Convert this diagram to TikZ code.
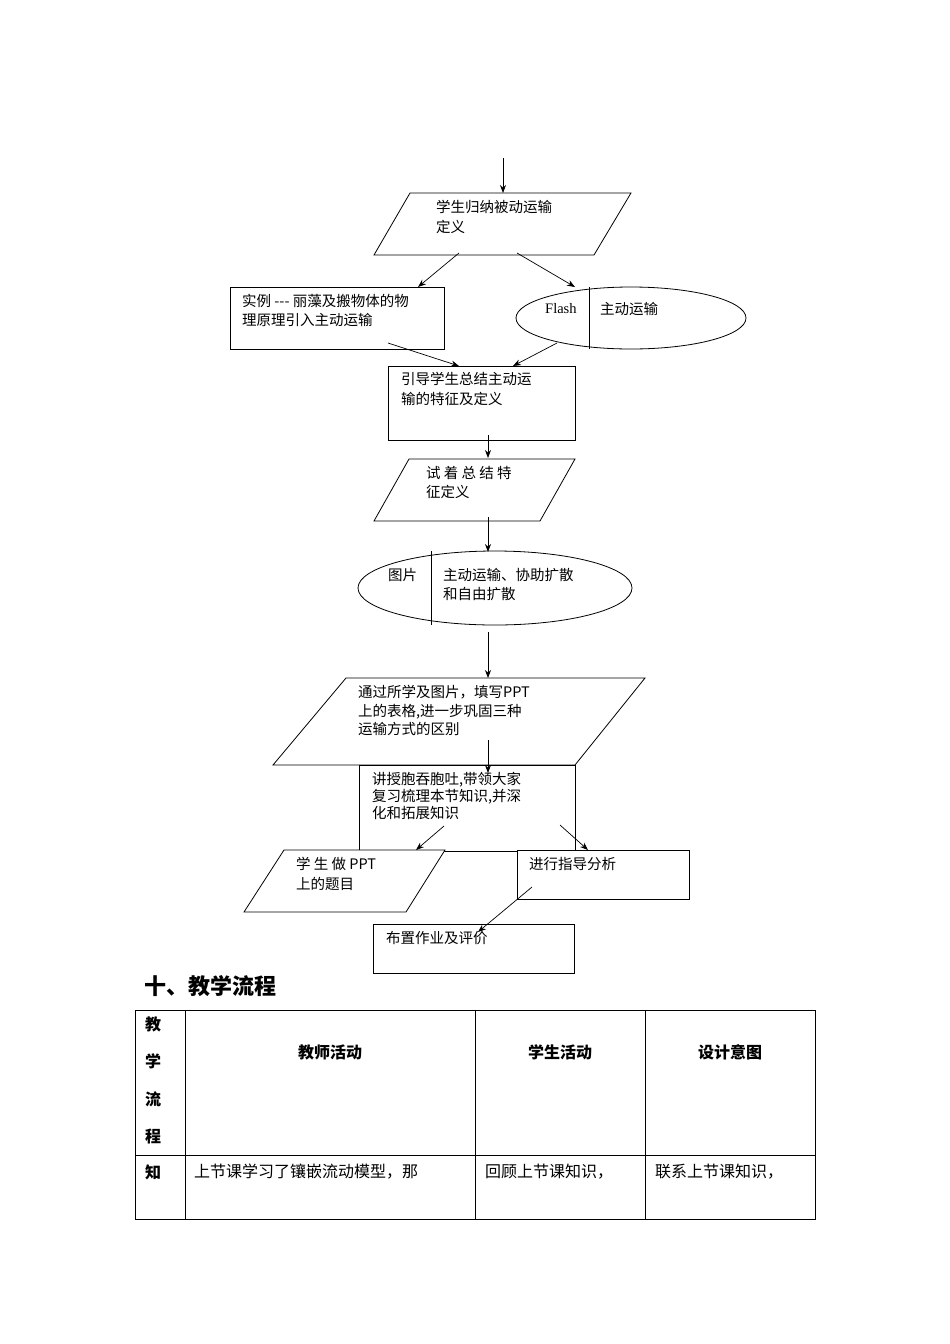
\documentclass[tikz,border=0pt]{standalone}
\usepackage{fontspec}
\usetikzlibrary{arrows.meta}
\setmainfont{Liberation Serif}
\newfontfamily\cjk{Noto Sans CJK SC}
\begin{document}
\begin{tikzpicture}[x=1pt,y=-1pt,
  box/.style={draw,line width=0.8pt},
  arr/.style={-{Stealth[length=8pt,width=6pt]},line width=0.7pt},
  tx/.style={anchor=north west,align=left,inner sep=0pt,font=\cjk\fontsize{14.5}{19.5}\selectfont},
  hd/.style={anchor=center,inner sep=0pt,font=\cjk\bfseries\fontsize{16}{20}\selectfont},
  cell/.style={anchor=west,inner sep=0pt,font=\cjk\fontsize{16}{20}\selectfont}]
\useasboundingbox (0,0) rectangle (950,1344);
% shapes
\draw[box] (410,193) -- (631,193) -- (594,255) -- (374,255) -- cycle;
\draw[box] (230,287) rectangle (444,349);
\draw[box] (631,318) ellipse [x radius=115,y radius=31];
\draw[box] (589,287) -- (589,349);
\draw[box] (388,366) rectangle (575,440);
\draw[box] (409,459) -- (575,459) -- (540,521) -- (374,521) -- cycle;
\draw[box] (495,588) ellipse [x radius=137,y radius=37];
\draw[box] (431,551) -- (431,625);
\draw[box] (346,678) -- (645,678) -- (575,765) -- (273,765) -- cycle;
\draw[box] (359,765) rectangle (575,851);
\draw[box,fill=white] (284,850) -- (445,850) -- (406,912) -- (244,912) -- cycle;
\draw[box,fill=white] (517,850) rectangle (689,899);
\draw[box] (373,924) rectangle (574,973);
% texts
\node[tx] (t1) at (436,200) {学生归纳被动运输\\定义};
\node[tx] (t2) at (242,294) {实例 --- 丽藻及搬物体的物\\理原理引入主动运输};
\node[tx,font=\fontsize{14.5}{19}\selectfont] (t3) at (545,303) {Flash};
\node[tx] (t4) at (600,302) {主动运输};
\node[tx] (t5) at (401,372) {引导学生总结主动运\\输的特征及定义};
\node[tx] (t6) at (426,466) {试 着 总 结 特\\征定义};
\node[tx] (t7) at (388,568) {图片};
\node[tx] (t8) at (443,568) {主动运输、协助扩散\\和自由扩散};
\node[tx,font=\cjk\fontsize{14.5}{18.5}\selectfont] (t9) at (358,685) {通过所学及图片，填写PPT\\上的表格,进一步巩固三种\\运输方式的区别};
\node[tx,font=\cjk\fontsize{14.5}{17}\selectfont] (t10) at (372,772) {讲授胞吞胞吐,带领大家\\复习梳理本节知识,并深\\化和拓展知识};
\node[tx] (t11) at (296,857) {学 生 做 PPT\\上的题目};
\node[tx] (t12) at (529,857) {进行指导分析};
\node[tx] (t13) at (386,931) {布置作业及评价};
% arrows
\coordinate (a0) at (503,158); \coordinate (b0) at (503,193);
\draw[arr] (a0) -- (b0);
\coordinate (a1) at (459,253); \coordinate (b1) at (418,287);
\draw[arr] (a1) -- (b1);
\coordinate (a2) at (517,253); \coordinate (b2) at (575,287);
\draw[arr] (a2) -- (b2);
\coordinate (a3) at (388,343); \coordinate (b3) at (459,366);
\draw[arr] (a3) -- (b3);
\coordinate (a4) at (557,343); \coordinate (b4) at (513,366);
\draw[arr] (a4) -- (b4);
\coordinate (a5) at (488,435); \coordinate (b5) at (488,458);
\draw[arr] (a5) -- (b5);
\coordinate (a6) at (488,517); \coordinate (b6) at (488,552);
\draw[arr] (a6) -- (b6);
\coordinate (a7) at (488,632); \coordinate (b7) at (488,678);
\draw[arr] (a7) -- (b7);
\coordinate (a8) at (488,740); \coordinate (b8) at (488,773);
\draw[arr] (a8) -- (b8);
\coordinate (a9) at (444,826); \coordinate (b9) at (416,850);
\draw[arr] (a9) -- (b9);
\coordinate (a10) at (560,825); \coordinate (b10) at (588,850);
\draw[arr] (a10) -- (b10);
\coordinate (a11) at (532,887); \coordinate (b11) at (478,932);
\draw[arr] (a11) -- (b11);
% heading
\node[anchor=west,inner sep=0pt,font=\cjk\bfseries\fontsize{22}{26}\selectfont] (h) at (144,986) {十、教学流程};
% table
\draw[line width=0.6pt] (135,1010) rectangle (815,1219);
\draw[line width=0.6pt] (185,1010) -- (185,1219) (475,1010) -- (475,1219) (645,1010) -- (645,1219);
\draw[line width=0.6pt] (135,1155) -- (815,1155);
\node[hd] (c1) at (153,1024) {教};
\node[hd] (c2) at (153,1061) {学};
\node[hd] (c3) at (153,1099) {流};
\node[hd] (c4) at (153,1136) {程};
\node[hd] (c5) at (330,1052) {教师活动};
\node[hd] (c6) at (560,1052) {学生活动};
\node[hd] (c7) at (730,1052) {设计意图};
\node[hd] (c8) at (153,1172) {知};
\node[cell] (c9) at (194,1172) {上节课学习了镶嵌流动模型，那};
\node[cell] (c10) at (485,1172) {回顾上节课知识，};
\node[cell] (c11) at (655,1172) {联系上节课知识，};
\end{tikzpicture}
\end{document}
